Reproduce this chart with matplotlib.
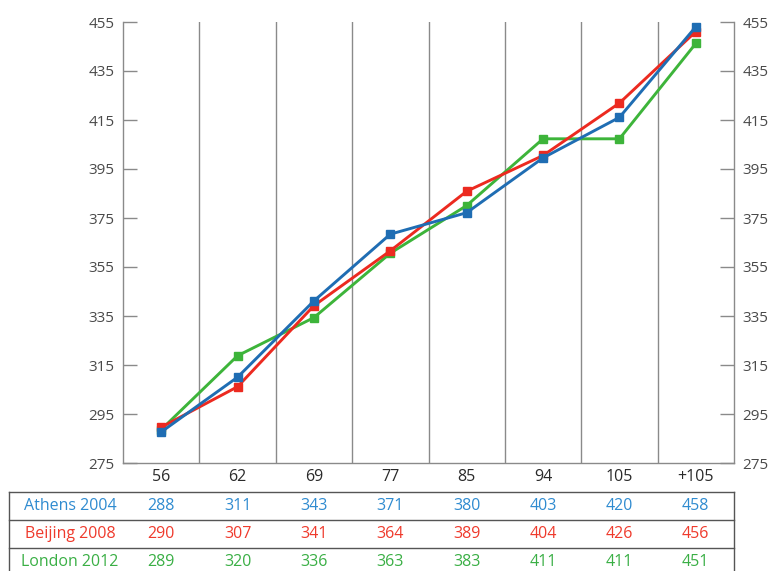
import numpy as np
import matplotlib.pyplot as plt
from matplotlib.lines import Line2D

plt.rcParams['font.family'] = ['Open Sans', 'DejaVu Sans']

categories = ['56', '62', '69', '77', '85', '94', '105', '+105']
series_names = ['Athens 2004', 'Beijing 2008', 'London 2012']
athens = [288, 311, 343, 371, 380, 403, 420, 458]
beijing = [290, 307, 341, 364, 389, 404, 426, 456]
london = [289, 320, 336, 363, 383, 411, 411, 451]
ytick_labels = ['275', '295', '315', '335', '355', '375', '395', '415', '435', '455']

line_colors = ['#1f6db3', '#ec2a20', '#3db43a']
text_colors = ['#2f8bd0', '#ef3a2c', '#3aaf45']
grey = '#8a8a8a'
label_grey = '#4a4a4a'

W, H = 769, 571
fig = plt.figure(figsize=(W / 100, H / 100), dpi=100)

# plot area in pixel coordinates of the figure
x0, x1, ytop, ybot = 123, 734, 22, 463
ax = fig.add_axes([x0 / W, 1 - ybot / H, (x1 - x0) / W, (ybot - ytop) / H])

x = np.arange(len(categories))
series = [athens, beijing, london]
# London first so Athens ends up on top
for i in [2, 1, 0]:
    ax.plot(x, series[i], color=line_colors[i], lw=2.1, marker='s',
            markersize=6.2, zorder=3)

ax.set_xlim(-0.5, len(categories) - 0.5)
ax.set_ylim(275, 460)
yt = np.linspace(275, 460, len(ytick_labels))
ax.set_yticks(yt)
ax.set_yticklabels(ytick_labels)
ax.set_xticks(x)
ax.set_xticklabels(categories)

# separators between weight classes
for g in x[:-1] + 0.5:
    ax.axvline(g, color=grey, lw=1.0, zorder=1)

for side in ['left', 'right', 'bottom']:
    ax.spines[side].set_color(grey)
    ax.spines[side].set_linewidth(1.0)
ax.spines['top'].set_visible(False)

ax.tick_params(axis='y', which='both', direction='in', length=10, width=1.0,
               color=grey, labelcolor=label_grey, labelsize=11, pad=6,
               left=True, right=True, labelleft=True, labelright=True)
ax.tick_params(axis='x', length=0, labelsize=11.5, labelcolor='#2a2a2a', pad=4)

# data table under the chart
tl, tr = 9, 734
rows_y = [492, 520, 548, 577]
for yy in rows_y:
    fig.add_artist(Line2D([tl / W, tr / W], [1 - yy / H, 1 - yy / H],
                          color='#555555', lw=1.0))
for xx in [tl, tr]:
    fig.add_artist(Line2D([xx / W, xx / W], [1 - rows_y[0] / H, 0],
                          color='#555555', lw=1.0))

col_px = [x0 + (i + 0.5) * (x1 - x0) / len(categories) for i in range(len(categories))]
for r, (name, vals) in enumerate(zip(series_names, series)):
    yc = 1 - (rows_y[r] + 14) / H
    fig.text(70 / W, yc, name, color=text_colors[r], fontsize=11.5,
             ha='center', va='center')
    for cx, v in zip(col_px, vals):
        fig.text(cx / W, yc, str(v), color=text_colors[r], fontsize=11.5,
                 ha='center', va='center')

fig.savefig('out.png', dpi=100, facecolor='white')
